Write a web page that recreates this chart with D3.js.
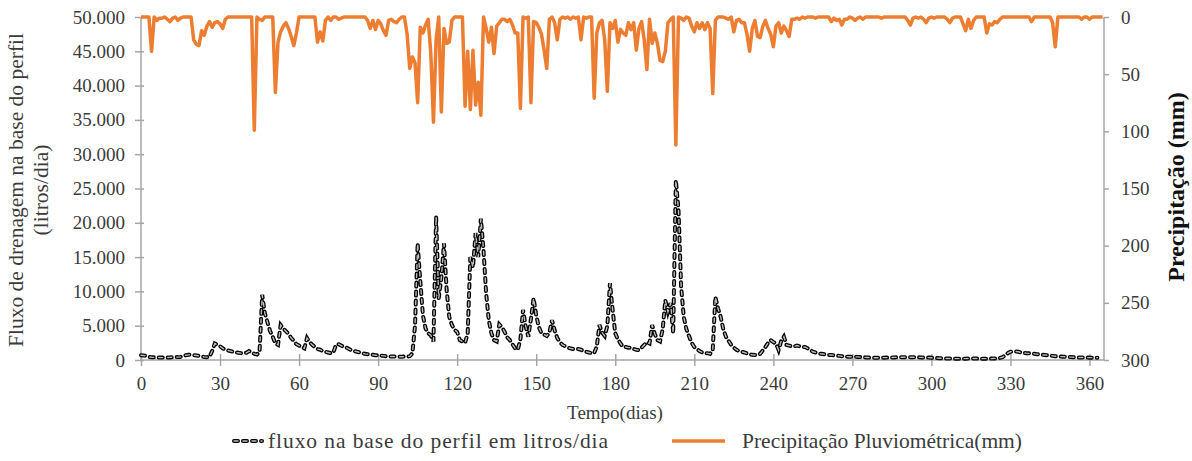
<!DOCTYPE html>
<html>
<head>
<meta charset="utf-8">
<script src="https://cdn.jsdelivr.net/npm/d3@7"></script>
<style>
body { margin: 0; background: #fff; }
text { font-family: "Liberation Serif", "DejaVu Serif", serif; }
</style>
</head>
<body>
<svg id="chart" width="1192" height="461"></svg>
<script>
// precipitacao diaria (mm), dia 0..365
var chuva = [
 0,0,0,0,30,0,3,1,1,0,2,4,1,0,3,1,0,0,0,0,20,24,25,12,16,8,4,9,5,4,
 6,10,2,0,0,0,0,0,0,0,0,0,0,99,0,2,3,0,0,0,0,66,22,13,8,5,10,17,25,14,
 0,0,0,0,0,0,0,22,13,21,3,0,3,0,0,2,1,0,0,0,0,0,0,0,0,0,3,10,3,11,
 3,6,12,16,3,2,4,5,2,0,0,15,45,35,40,75,9,14,7,2,32,92,20,0,83,10,23,22,3,0,
 0,0,0,78,30,81,29,77,57,86,0,10,22,9,32,8,5,2,2,4,2,7,14,14,80,0,1,0,75,4,
 5,9,15,29,45,2,0,5,20,2,0,1,0,2,0,1,0,20,0,1,0,0,71,14,5,3,20,65,5,10,
 3,22,11,14,16,5,11,5,29,10,4,20,46,2,23,14,23,38,39,30,5,2,0,112,0,1,3,0,1,8,
 13,5,10,5,11,5,10,67,3,0,0,0,1,2,0,13,3,2,5,5,15,30,10,3,17,18,8,3,10,15,
 26,8,5,14,8,12,17,2,2,1,2,0,1,0,0,0,1,0,0,0,0,0,4,1,3,2,7,2,2,0,
 1,3,1,0,2,0,0,0,0,0,0,1,0,0,0,0,0,0,0,0,0,3,7,1,0,1,0,2,5,1,
 0,1,0,0,0,0,2,5,1,0,0,0,6,12,2,10,3,0,0,0,0,14,6,7,4,5,2,0,0,0,
 0,0,0,0,0,0,0,0,4,0,0,0,0,0,0,0,5,26,0,0,0,0,0,0,0,0,0,2,0,0,
 2,0,0,0,0,0
];

// fluxo na base do perfil (litros/dia), dia 0..363
var fluxo = [
 700,650,600,450,400,380,370,360,350,350,350,380,400,420,420,450,550,700,750,750,700,650,600,500,450,420,450,1300,2400,2200,
 2000,1700,1500,1400,1300,1200,1100,1050,1000,1000,1050,1300,1100,900,800,1200,9500,6800,5500,4200,3400,2400,2200,5100,4600,4200,3800,3200,2800,2300,
 2100,1900,1700,3200,2600,2200,1900,1600,1500,1300,1200,1100,1000,1100,2200,2300,2100,1900,1800,1600,1400,1300,1200,1100,1000,900,850,800,750,700,
 650,650,600,550,550,500,500,500,480,480,500,500,550,970,5000,17000,11500,6500,4600,3900,3600,2700,20900,9000,12000,17000,10200,6300,5100,4400,
 4100,2900,2700,2500,3900,15000,13500,18500,15000,20600,16000,9700,5800,3900,2900,2700,5200,4800,4100,3300,2900,2300,1700,1500,3000,7300,4900,3400,6000,9000,
 6500,4800,3900,3700,3500,4000,5800,4300,3200,2600,2200,2000,1800,1700,1600,1600,1600,1500,1300,1200,1100,1000,1000,2000,5100,4000,3500,5000,11200,7300,
 3900,3000,2400,1900,1900,1800,1800,1600,1500,1450,1800,2200,2600,2400,5100,3800,2900,2700,4500,8700,7000,8300,3900,26200,21900,10700,6300,4500,3500,2500,
 1900,1600,1300,1100,1000,1000,900,1500,9200,7500,6300,4500,3400,2800,2200,1800,1500,1300,1200,1100,950,850,750,730,730,900,1400,1900,2500,2900,
 2600,2400,1450,2800,3400,2200,2100,2000,2000,2100,2000,1900,1900,1700,1500,1200,1100,1000,900,870,800,750,730,700,650,600,550,500,490,480,
 470,460,450,420,400,380,360,340,340,330,330,340,340,350,360,370,380,390,400,400,400,400,400,400,390,390,380,370,360,350,
 330,300,280,260,240,230,220,220,210,200,200,200,200,200,210,220,220,210,200,200,200,200,200,210,230,250,300,400,700,1000,
 1200,1250,1250,1200,1100,1050,1000,970,930,900,850,800,760,730,700,650,600,550,520,500,490,470,450,420,400,380,370,360,350,350,
 340,340,330,330
];

var xTicks = [0, 30, 60, 90, 120, 150, 180, 210, 240, 270, 300, 330, 360];
var fluxoTicks = [0, 5000, 10000, 15000, 20000, 25000, 30000, 35000, 40000, 45000, 50000];
var chuvaTicks = [0, 50, 100, 150, 200, 250, 300];

var nomeFluxo = "fluxo na base do perfil em litros/dia";
var nomeChuva = "Precipitação Pluviométrica(mm)";

var desenha = function() {
    var svg = d3.select("#chart");
    var mLeft = 141, mRight = 1104, mTop = 17, mBottom = 360;
    var axisCol = "#a6a6a6", txtCol = "#3b3b3b";
    var orange = "#ed7d31";
    var dash = "4,5";

    var x = d3.scaleLinear().domain([0, 365.5]).range([mLeft, mRight]);
    var y = d3.scaleLinear().domain([0, 50000]).range([mBottom, mTop]);
    var y2 = d3.scaleLinear().domain([0, 300]).range([mTop, mBottom]);

    var pt = d3.formatLocale({decimal: ",", thousands: ".", grouping: [3], currency: ["", ""]});
    var fmt = pt.format(",");

    // eixo esquerdo
    var gl = svg.append("g").attr("transform", "translate(" + mLeft + ",0)")
        .call(d3.axisLeft(y).tickValues(fluxoTicks).tickFormat(fmt).tickSize(6).tickPadding(10));
    gl.selectAll(".tick line").attr("x2", -6).attr("x1", 3);

    // eixo direito
    var gr = svg.append("g").attr("transform", "translate(" + mRight + ",0)")
        .call(d3.axisRight(y2).tickValues(chuvaTicks).tickSize(5).tickPadding(12));

    // eixo x
    var gx = svg.append("g").attr("transform", "translate(0," + mBottom + ")")
        .call(d3.axisBottom(x).tickValues(xTicks).tickSize(6).tickPadding(11));
    gx.selectAll(".tick line").attr("y1", -6).attr("y2", 6);

    [gl, gr, gx].forEach(function(g) {
        g.select(".domain").attr("stroke", axisCol).attr("stroke-width", 1.5);
        g.selectAll(".tick line").attr("stroke", axisCol).attr("stroke-width", 1.5);
        g.selectAll(".tick text").attr("fill", txtCol).style("font-size", "19px")
            .style("font-family", "Liberation Serif");
    });
    gl.select(".domain").attr("d", "M0," + mTop + "V" + mBottom);
    gr.select(".domain").attr("d", "M0," + mTop + "V" + mBottom);
    gx.select(".domain").attr("d", "M" + mLeft + ",0H" + mRight);

    // linha de precipitacao
    var lineChuva = d3.line().x(function(d, i) { return x(i); }).y(function(d) { return y2(d); });
    svg.append("path").datum(chuva).attr("d", lineChuva)
        .attr("fill", "none").attr("stroke", orange).attr("stroke-width", 3.5)
        .attr("stroke-linejoin", "round");

    // linha de fluxo (tracejada dupla)
    var lineFluxo = d3.line().x(function(d, i) { return x(i); }).y(function(d) { return y(d); });
    svg.append("path").datum(fluxo).attr("d", lineFluxo)
        .attr("fill", "none").attr("stroke", "#000").attr("stroke-width", 4)
        .attr("stroke-dasharray", dash).attr("stroke-linecap", "round");
    svg.append("path").datum(fluxo).attr("d", lineFluxo)
        .attr("fill", "none").attr("stroke", "#bdbdbd").attr("stroke-width", 1.4)
        .attr("stroke-dasharray", dash).attr("stroke-linecap", "round");

    // titulos
    svg.append("text").attr("x", 615).attr("y", 419)
        .attr("text-anchor", "middle").attr("fill", txtCol).style("font-size", "19px")
        .text("Tempo(dias)");

    svg.append("text").attr("transform", "translate(23,190) rotate(-90)")
        .attr("text-anchor", "middle").attr("fill", txtCol).style("font-size", "21.5px")
        .text("Fluxo de drenagem na base do perfil");
    svg.append("text").attr("transform", "translate(48,190) rotate(-90)")
        .attr("text-anchor", "middle").attr("fill", txtCol).style("font-size", "21.5px")
        .text("(litros/dia)");

    svg.append("text").attr("transform", "translate(1184,187) rotate(-90)")
        .attr("text-anchor", "middle").attr("fill", "#111").style("font-size", "24px")
        .style("font-weight", "bold").text("Precipitação (mm)");

    // legenda
    var lg = svg.append("g");
    lg.append("line").attr("x1", 234).attr("x2", 262).attr("y1", 441).attr("y2", 441)
        .attr("stroke", "#000").attr("stroke-width", 4).attr("stroke-dasharray", dash).attr("stroke-linecap", "round");
    lg.append("line").attr("x1", 234).attr("x2", 262).attr("y1", 441).attr("y2", 441)
        .attr("stroke", "#bdbdbd").attr("stroke-width", 1.4).attr("stroke-dasharray", dash).attr("stroke-linecap", "round");
    lg.append("text").attr("x", 268).attr("y", 448).attr("fill", txtCol).style("font-size", "21.5px")
        .attr("textLength", 340).attr("lengthAdjust", "spacing").text(nomeFluxo);
    lg.append("line").attr("x1", 672).attr("x2", 725).attr("y1", 441).attr("y2", 441)
        .attr("stroke", orange).attr("stroke-width", 3.5);
    lg.append("text").attr("x", 742).attr("y", 448).attr("fill", txtCol).style("font-size", "21.5px").text(nomeChuva);
}

desenha();
</script>
</body>
</html>
